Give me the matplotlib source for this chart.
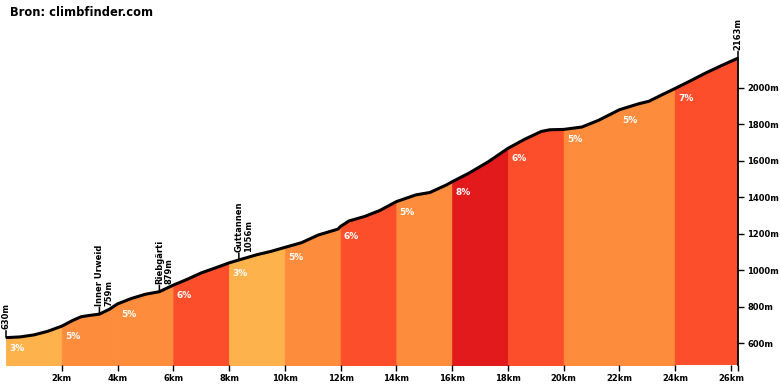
import numpy as np
import matplotlib
matplotlib.use('Agg')
import matplotlib.pyplot as plt

# profile (km, m)
km = [0, 0.5, 1, 1.5, 2, 2.4, 2.7, 3, 3.35, 3.7, 4, 4.5, 5, 5.5, 6, 6.5, 7, 7.5, 8,
      8.35, 9, 9.5, 10, 10.6, 11.2, 11.9, 12, 12.3, 12.85, 13.4, 14, 14.7, 15.2, 15.8,
      16, 16.6, 17.3, 18, 18.6, 19.2, 19.5, 20, 20.65, 21.25, 22, 22.7, 23.05, 23.5,
      24, 24.5, 25.1, 25.7, 26.25]
elev = [630, 634, 645, 665, 693, 725, 745, 752, 759, 785, 815, 845, 868, 882, 918, 950,
        985, 1012, 1040, 1056, 1085, 1103, 1125, 1151, 1193, 1225, 1240, 1270, 1294, 1327,
        1376, 1413, 1426, 1468, 1485, 1532, 1595, 1668, 1718, 1761, 1770, 1772, 1785, 1822,
        1880, 1913, 1926, 1960, 1997, 2035, 2082, 2125, 2163]

seg_start = [0, 2, 4, 6, 8, 10, 12, 14, 16, 18, 20, 22, 24]
seg_end = [2, 4, 6, 8, 10, 12, 14, 16, 18, 20, 22, 24, 26.25]
seg_grade = [3, 5, 5, 6, 3, 5, 6, 5, 8, 6, 5, 5, 7]

grade_colors = {3: '#feb24c', 5: '#fd8d3c', 6: '#fc4e2a', 7: '#fc4e2a', 8: '#e31a1c'}

poi_km = [0, 3.35, 5.5, 8.35, 26.25]
poi_elev = [630, 759, 879, 1056, 2163]
poi_text = ['630m', 'Inner Urweid\n759m', 'Riebgärti\n879m', 'Guttannen\n1056m', '2163m']

xticks = [2, 4, 6, 8, 10, 12, 14, 16, 18, 20, 22, 24, 26]
yticks = [600, 800, 1000, 1200, 1400, 1600, 1800, 2000]

plt.rcParams['font.family'] = ['DejaVu Sans']

fig = plt.figure(figsize=(7.8, 3.9), dpi=100)
ax = fig.add_axes([6 / 780, 25 / 390, 732 / 780, 345 / 390])

x = np.array(km)
y = np.array(elev)

for s, e, g in zip(seg_start, seg_end, seg_grade):
    m = (x >= s) & (x <= e)
    c = grade_colors[g]
    ax.fill_between(x[m], 0, y[m], facecolor=c, edgecolor=c, lw=0.6, zorder=1)
    ystart = y[x == s][0]
    ax.annotate(f'{g}%', xy=(s, ystart), xytext=(7.8, -7.5), textcoords='offset points',
                ha='center', va='center', color='white', fontsize=6.5, fontweight='bold',
                zorder=4)

ax.plot(x, y, color='black', lw=2.2, zorder=3, solid_capstyle='round')

for pk, pe, pt in zip(poi_km, poi_elev, poi_text):
    ax.annotate('', xy=(pk, pe), xytext=(0, 5), textcoords='offset points',
                arrowprops=dict(arrowstyle='-', lw=1.1, color='black', shrinkA=0, shrinkB=0))
    two = '\n' in pt
    ax.annotate(pt, xy=(pk, pe), xytext=(-3.2 if two else 0, 6), textcoords='offset points',
                rotation=90, ha='left' if two else 'center', va='bottom',
                fontsize=6, fontweight='bold', linespacing=1.05, zorder=5)

ax.set_xlim(0, 26.25)
ax.set_ylim(480, 2372)

for side in ['top', 'left', 'bottom']:
    ax.spines[side].set_visible(False)
ax.spines['right'].set_linewidth(1.3)
ax.spines['right'].set_bounds(480, 2163)

ax.set_xticks(xticks)
ax.set_xticklabels([f'{t}km' for t in xticks])
ax.set_xticks([26.25], minor=True)
ax.set_yticks(yticks)
ax.set_yticklabels([f'{t}m' for t in yticks])
ax.yaxis.tick_right()
ax.tick_params(axis='both', which='both', direction='out', length=4.5, width=1,
               labelsize=6, pad=2)
for lab in ax.get_xticklabels() + ax.get_yticklabels():
    lab.set_fontweight('bold')

fig.text(10 / 780, 1 - 12 / 390, 'Bron: climbfinder.com', fontsize=8.3, fontweight='bold',
         va='center', ha='left')

fig.savefig('out.png', dpi=100)
